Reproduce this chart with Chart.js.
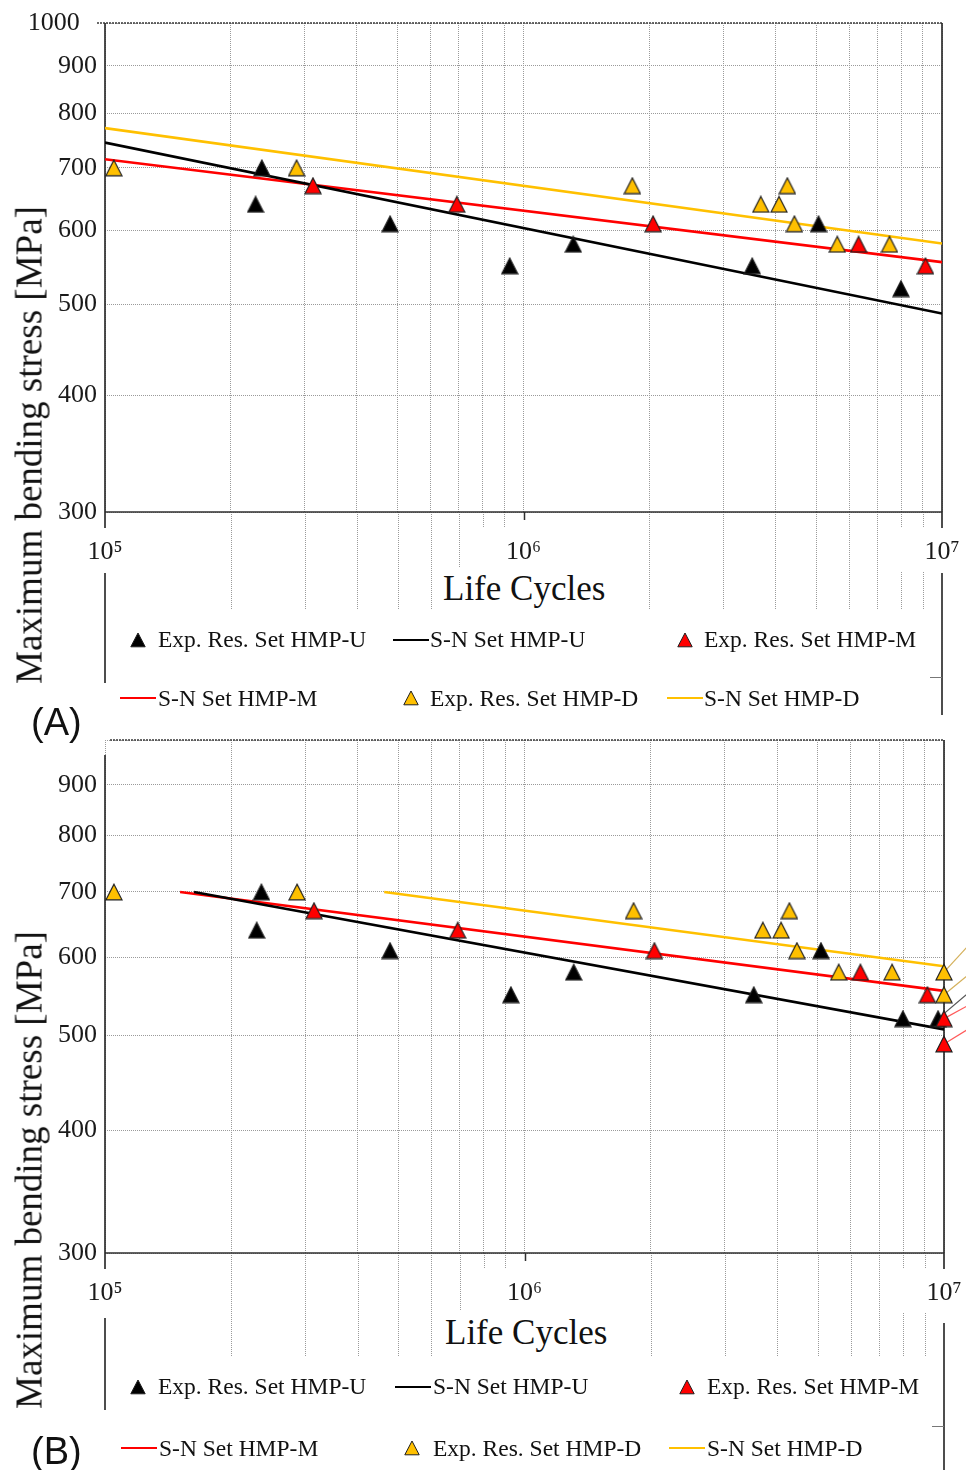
<!DOCTYPE html>
<html><head><meta charset="utf-8">
<script src="https://cdn.jsdelivr.net/npm/chart.js@4.4.1/dist/chart.umd.min.js"></script>
<style>
html,body{margin:0;padding:0;background:#fff;}
#page{position:relative;width:966px;height:1470px;overflow:hidden;background:#fff;}
canvas{position:absolute;left:0;top:0;}
.t{position:absolute;white-space:nowrap;color:#111;z-index:5;}
.box{position:absolute;background:#fff;z-index:4;}
.mk{position:absolute;z-index:5;}
</style></head><body>
<div id="page">
<canvas id="cA" width="966" height="1470"></canvas>
<canvas id="cB" width="966" height="1470"></canvas>
</div>
<script>
// ---------- axis ticks ----------
const xTickValues = [1e5,2e5,3e5,4e5,5e5,6e5,7e5,8e5,9e5,1e6,2e6,3e6,4e6,5e6,6e6,7e6,8e6,9e6,1e7];
const xDecades = [1e5, 1e6, 1e7];
const xDecadeLabels = ['10\u2075', '10\u2076', '10\u2077'];
const yTickValues = [300,400,500,600,700,800,900,1000];
const yTickLabelsA = ['300','400','500','600','700','800','900','1000\u2002\u2006'];
const yTickLabelsB = ['300','400','500','600','700','800','900',''];

// ---------- Panel (A) ----------
const aExpU_N = [2.37e5, 2.29e5, 4.80e5, 9.27e5, 1.315e6, 3.52e6, 5.07e6, 7.98e6];
const aExpU_S = [700, 640, 610, 550, 580, 550, 610, 520];
const aExpM_N = [3.14e5, 6.93e5, 2.04e6, 6.32e6, 9.13e6];
const aExpM_S = [670, 640, 610, 580, 550];
const aExpD_N = [1.05e5, 2.87e5, 1.82e6, 3.69e6, 4.08e6, 4.27e6, 4.44e6, 5.62e6, 7.49e6];
const aExpD_S = [700, 700, 670, 640, 640, 670, 610, 580, 580];
const aSnU_N = [1e5, 1e7]; const aSnU_S = [745, 489];
const aSnM_N = [1e5, 1e7]; const aSnM_S = [715, 555];
const aSnD_N = [1e5, 1e7]; const aSnD_S = [772, 581];

// ---------- Panel (B) ----------
const bExpU_N = [2.36e5, 2.30e5, 4.78e5, 9.28e5, 1.31e6, 3.52e6, 5.09e6, 7.98e6, 9.68e6];
const bExpU_S = [700, 640, 610, 550, 580, 550, 610, 520, 520];
const bExpM_N = [3.15e5, 6.93e5, 2.04e6, 6.32e6, 9.13e6, 1e7, 1e7];
const bExpM_S = [670, 640, 610, 580, 550, 520, 490];
const bExpD_N = [1.05e5, 2.87e5, 1.82e6, 3.70e6, 4.09e6, 4.28e6, 4.46e6, 5.61e6, 7.52e6, 1e7, 1e7];
const bExpD_S = [700, 700, 670, 640, 640, 670, 610, 580, 580, 580, 550];
const bSnU_N = [1.63e5, 1e7]; const bSnU_S = [700, 507];
const bSnM_N = [1.51e5, 1e7]; const bSnM_S = [700, 555];
const bSnD_N = [4.63e5, 1e7]; const bSnD_S = [700, 588];
// run-out arrows (start at the run-out point, end beyond the right edge)
const bRunStart_N = [1e7, 1e7, 9.68e6, 1e7, 1e7];
const bRunStart_S = [580, 550, 520, 520, 490];
const bRunEnd_N = [1.13e7, 1.13e7, 1.13e7, 1.13e7, 1.13e7];
const bRunEnd_S = [614, 574, 550, 535, 506];
const bRunSeries = ['D', 'D', 'U', 'M', 'M'];

// ---------- styles ----------
const SERIF = "Liberation Serif, Times New Roman, serif";
const SANS = "Liberation Sans, Arial, sans-serif";
const COL = {U:'#000000', M:'#ff0000', D:'#ffc000'};
const RUNCOL = {U:'#555555', M:'#ff5a5a', D:'#d4b05a'};
const GRID = '#9a9a9a';
const X_AXIS_H = 60;

function triCanvas(fill){
  const c = document.createElement('canvas'); c.width = 18; c.height = 18;
  const g = c.getContext('2d');
  g.beginPath(); g.moveTo(9,1.2); g.lineTo(17,16.8); g.lineTo(1,16.8); g.closePath();
  g.fillStyle = fill; g.fill();
  g.lineWidth = 1.2; g.strokeStyle = '#1e1e1e'; g.stroke();
  return c;
}
const TRI = {U: triCanvas(COL.U), M: triCanvas(COL.M), D: triCanvas(COL.D)};

const pts = (N,S) => N.map((n,i)=>({x:n, y:S[i]}));
function expSet(label, N, S, k){
  return {label, data: pts(N,S), pointStyle: TRI[k], pointRadius: 8, pointHoverRadius: 8,
          showLine:false, clip:false};
}
function snSet(label, N, S, k){
  return {label, data: pts(N,S), showLine:true, borderColor: COL[k], borderWidth: 2.6,
          pointRadius:0, pointHoverRadius:0, tension:0, fill:false};
}

function makeFramePlugin(g){
  return {
    id: 'frame' + g.id,
    beforeDraw(chart){
      const ctx = chart.ctx, xs = chart.scales.x, a = chart.chartArea;
      ctx.save(); ctx.strokeStyle = GRID; ctx.lineWidth = 1; ctx.setLineDash([1,1]);
      xTickValues.forEach(v => {
        if (xDecades.includes(v)) return;
        const px = Math.round(xs.getPixelForValue(v)) + 0.5;
        ctx.beginPath(); ctx.moveTo(px, a.bottom); ctx.lineTo(px, g.gridExtBottom); ctx.stroke();
      });
      ctx.restore();
    },
    beforeDatasetsDraw(chart){
      const ctx = chart.ctx, xs = chart.scales.x, a = chart.chartArea;
      const seg = (x0,y0,x1,y1,w,c,dash) => {
        ctx.save(); ctx.strokeStyle = c; ctx.lineWidth = w; ctx.setLineDash(dash||[]);
        ctx.beginPath(); ctx.moveTo(x0,y0); ctx.lineTo(x1,y1); ctx.stroke(); ctx.restore();
      };
      const C = '#2e2e2e';
      seg(a.left + g.topInset, a.top, a.right, a.top, 1.6, '#3a3a3a', [2,1]);
      seg(a.left, a.top + g.leftInset, a.left, a.bottom + 16, 1.7, C);
      seg(a.left, g.leftExt[0], a.left, g.leftExt[1], 1.7, C);
      seg(a.right, a.top, a.right, a.bottom + 16, 1.7, C);
      seg(a.right, g.rightExt[0], a.right, g.rightExt[1], 1.7, C);
      seg(a.left, a.bottom, a.right, a.bottom, 1.7, C);
      const p6 = Math.round(xs.getPixelForValue(1e6)) + 0.5;
      seg(p6, a.bottom, p6, a.bottom + 8, 1.5, C);
      seg(a.right - 12, g.stubY, a.right, g.stubY, 1, '#777');
    }
  };
}

function makeChart(id, g, datasets, yLabels){
  const tickFont = {family: SERIF, size: 26};
  return new Chart(document.getElementById(id), {
    type: 'scatter',
    data: {datasets},
    options: {
      responsive: false, animation: false, devicePixelRatio: 1, events: [],
      layout: {padding: {left: 0, top: g.top, right: 966 - g.right, bottom: 1470 - g.bottom - X_AXIS_H}},
      plugins: {legend: {display: false}, tooltip: {enabled: false}},
      scales: {
        x: {
          type: 'logarithmic', min: 1e5, max: 1e7,
          afterBuildTicks: s => { s.ticks = xTickValues.map(v => ({value: v})); },
          afterFit: s => { s.height = X_AXIS_H; s.paddingLeft = 0; s.paddingRight = 0; },
          grid: {color: GRID, lineWidth: 1, drawTicks: false},
          border: {display: false, dash: [1,1]},
          ticks: {
            autoSkip: false, maxRotation: 0, minRotation: 0, padding: 25, color: '#1a1a1a', font: tickFont,
            callback: v => { const i = xDecades.indexOf(v); return i >= 0 ? xDecadeLabels[i] : ''; },
            showLabelBackdrop: c => xDecades.indexOf(c.tick.value) >= 0,
            backdropColor: '#ffffff',
            backdropPadding: {left: 33, right: 33, top: 9, bottom: 5}
          }
        },
        y: {
          type: 'logarithmic', min: 300, max: 1000,
          afterBuildTicks: s => { s.ticks = yTickValues.map(v => ({value: v})); },
          afterFit: s => { s.width = g.left; s.paddingTop = 0; s.paddingBottom = 0; },
          grid: {color: GRID, lineWidth: 1, drawTicks: false},
          border: {display: false, dash: [1,1]},
          ticks: {
            autoSkip: false, padding: 8, color: '#1a1a1a', font: tickFont,
            callback: v => { const i = yTickValues.indexOf(v); return i >= 0 ? yLabels[i] : ''; }
          }
        }
      }
    },
    plugins: [makeFramePlugin(g)]
  });
}

// ---------- build charts ----------
const geomA = {id:'A', left:105, right:942, top:23, bottom:512, topInset:-8, leftInset:0,
               leftExt:[573,683], rightExt:[573,715], gridExtBottom:610, stubY:677.5};
const geomB = {id:'B', left:105, right:944, top:740, bottom:1253, topInset:5, leftInset:15,
               leftExt:[1318,1410], rightExt:[1323,1470], gridExtBottom:1357, stubY:1426.5};

const dsA = [
  expSet('Exp. Res. Set HMP-M', aExpM_N, aExpM_S, 'M'),
  expSet('Exp. Res. Set HMP-D', aExpD_N, aExpD_S, 'D'),
  expSet('Exp. Res. Set HMP-U', aExpU_N, aExpU_S, 'U'),
  snSet('S-N Set HMP-U', aSnU_N, aSnU_S, 'U'),
  snSet('S-N Set HMP-M', aSnM_N, aSnM_S, 'M'),
  snSet('S-N Set HMP-D', aSnD_N, aSnD_S, 'D')
];
const dsB = [
  expSet('Exp. Res. Set HMP-M', bExpM_N, bExpM_S, 'M'),
  expSet('Exp. Res. Set HMP-D', bExpD_N, bExpD_S, 'D'),
  expSet('Exp. Res. Set HMP-U', bExpU_N, bExpU_S, 'U'),
  snSet('S-N Set HMP-U', bSnU_N, bSnU_S, 'U'),
  snSet('S-N Set HMP-M', bSnM_N, bSnM_S, 'M'),
  snSet('S-N Set HMP-D', bSnD_N, bSnD_S, 'D')
];
bRunStart_N.forEach((n, i) => {
  const k = bRunSeries[i];
  dsB.push({label: 'run-out', data: [{x: n, y: bRunStart_S[i]}, {x: bRunEnd_N[i], y: bRunEnd_S[i]}],
            showLine: true, borderColor: RUNCOL[k], borderWidth: 1.2, pointRadius: 0, pointHoverRadius: 0,
            clip: false, tension: 0});
});

makeChart('cA', geomA, dsA, yTickLabelsA);
makeChart('cB', geomB, dsB, yTickLabelsB);

// ---------- HTML text & legend ----------
const page = document.getElementById('page');
function addText(txt, left, baseline, size, fam){
  const d = document.createElement('div');
  d.className = 't'; d.textContent = txt;
  const asc = fam === SANS ? 0.905 : 0.891, desc = fam === SANS ? 0.212 : 0.216;
  d.style.fontFamily = fam; d.style.fontSize = size + 'px'; d.style.lineHeight = size + 'px';
  d.style.left = left + 'px';
  d.style.top = (baseline - size * (0.5 + (asc - desc) / 2)) + 'px';
  page.appendChild(d); return d;
}
function addBox(l, t, w, h){
  const d = document.createElement('div'); d.className = 'box';
  d.style.left = l + 'px'; d.style.top = t + 'px'; d.style.width = w + 'px'; d.style.height = h + 'px';
  page.appendChild(d);
}
function addVTitle(txt, cx, cy, size){
  const d = document.createElement('div'); d.className = 't'; d.textContent = txt;
  d.style.fontFamily = SERIF; d.style.fontSize = size + 'px'; d.style.lineHeight = (size * 1.107) + 'px';
  d.style.left = cx + 'px'; d.style.top = cy + 'px';
  d.style.transform = 'translate(-50%,-50%) rotate(-90deg)';
  page.appendChild(d);
}
function addTri(cx, cy, k){
  const s = document.createElementNS('http://www.w3.org/2000/svg', 'svg');
  s.setAttribute('width', '16'); s.setAttribute('height', '16'); s.setAttribute('class', 'mk');
  s.style.left = (cx - 8) + 'px'; s.style.top = (cy - 8) + 'px';
  const p = document.createElementNS('http://www.w3.org/2000/svg', 'polygon');
  p.setAttribute('points', '8,1 15.2,14.8 0.8,14.8');
  p.setAttribute('fill', COL[k]); p.setAttribute('stroke', '#1e1e1e'); p.setAttribute('stroke-width', '1');
  s.appendChild(p); page.appendChild(s);
}
function addLine(x0, x1, y, k){
  const d = document.createElement('div'); d.className = 'mk';
  d.style.left = x0 + 'px'; d.style.top = (y - 1) + 'px'; d.style.width = (x1 - x0) + 'px';
  d.style.height = '2.2px'; d.style.background = COL[k];
  page.appendChild(d);
}
const LS = 23.5;
// Panel A
addVTitle('Maximum bending stress [MPa]', 29.5, 445, 37);
addBox(440, 567, 172, 45);
addText('Life Cycles', 443, 600, 35, SERIF);
addTri(137.5, 640, 'U'); addText('Exp. Res. Set HMP-U', 158, 648, LS, SERIF);
addLine(393, 429, 640, 'U'); addText('S-N Set HMP-U', 430, 648, LS, SERIF);
addTri(684.5, 640, 'M'); addText('Exp. Res. Set HMP-M', 704, 648, LS, SERIF);
addLine(120, 156, 698, 'M'); addText('S-N Set HMP-M', 158, 707, LS, SERIF);
addTri(410.5, 698, 'D'); addText('Exp. Res. Set HMP-D', 430, 707, LS, SERIF);
addLine(667, 703, 698, 'D'); addText('S-N Set HMP-D', 704, 707, LS, SERIF);
addText('(A)', 31, 735, 38, SANS);
// Panel B
addVTitle('Maximum bending stress [MPa]', 29.5, 1170, 37);
addBox(442, 1310, 172, 47);
addText('Life Cycles', 445, 1344, 35, SERIF);
addTri(138, 1387, 'U'); addText('Exp. Res. Set HMP-U', 158, 1395, LS, SERIF);
addLine(395, 431, 1387, 'U'); addText('S-N Set HMP-U', 433, 1395, LS, SERIF);
addTri(686.5, 1387, 'M'); addText('Exp. Res. Set HMP-M', 707, 1395, LS, SERIF);
addLine(121, 157, 1448, 'M'); addText('S-N Set HMP-M', 159, 1457, LS, SERIF);
addTri(411.5, 1448, 'D'); addText('Exp. Res. Set HMP-D', 433, 1457, LS, SERIF);
addLine(669, 705, 1448, 'D'); addText('S-N Set HMP-D', 707, 1457, LS, SERIF);
addText('(B)', 31, 1464, 38, SANS);
</script>
</body></html>
